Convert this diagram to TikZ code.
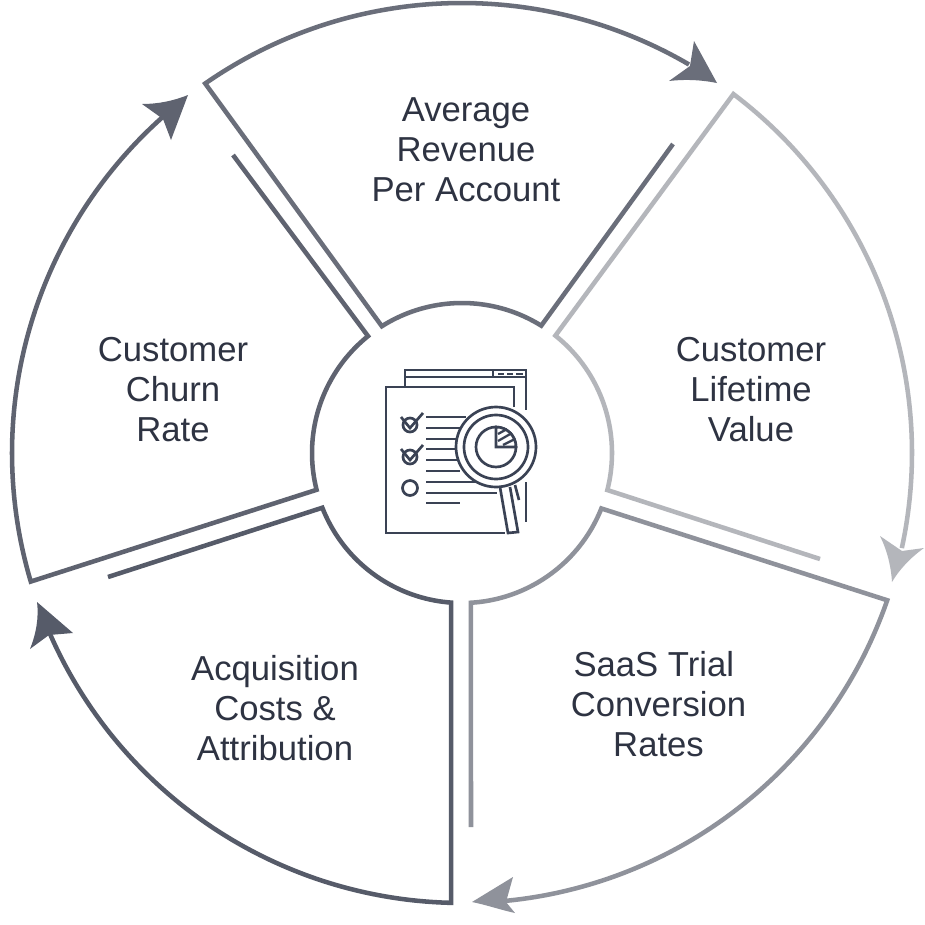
\documentclass[tikz,border=0pt]{standalone}
\usepackage{fontspec}
\setmainfont{Liberation Sans}
\definecolor{cTop}{HTML}{6A6E7A}
\definecolor{cRight}{HTML}{B4B6BB}
\definecolor{cBR}{HTML}{8F929B}
\definecolor{cBL}{HTML}{565B69}
\definecolor{cLeft}{HTML}{5F6370}
\definecolor{cIcon}{HTML}{3A4254}
\definecolor{cText}{HTML}{2E3342}
\tikzset{
  ringline/.style={line width=3.4pt,line join=miter,miter limit=20},
  label/.style={font=\fontsize{26}{30}\selectfont,text=cText,align=center,inner sep=0pt},
  icon/.style={draw=cIcon,line width=2pt},
}
\newcommand{\ringpart}[6]{%
  \draw[ringline,draw=#1] #2
    -- plot[smooth,domain=#3:#4,samples=40] ({462+150*cos(\x)},{453+150*sin(\x)})
    -- plot[smooth,domain=#5:#6,samples=60] ({462+450*cos(\x)},{453+450*sin(\x)});}
\begin{document}
\begin{tikzpicture}[x=0.75pt,y=-0.75pt]
\useasboundingbox (0,0) rectangle (925,925);
\fill[white] (0,0) rectangle (925,925);
\coordinate (tTop) at (673,144);
\coordinate (tRight) at (820,559);
\coordinate (tBR) at (471,827);
\coordinate (tBL) at (108,577);
\coordinate (tLeft) at (233,155);
\ringpart{cTop}{(tTop)}{-58.1}{-122.3}{-124.8}{-59.7}
\ringpart{cRight}{(tRight)}{14.3}{-51.5}{-52.9}{12.2}
\ringpart{cBR}{(tBR)}{86.6}{21.7}{19.1}{84.5}
\ringpart{cBL}{(tBL)}{158.6}{94.2}{91.4}{156.5}
\ringpart{cLeft}{(tLeft)}{231.2}{165.8}{163.4}{228.5}
% arrowheads
\fill[cTop] (717,83) -- (694,41) -- (690,66) -- (669,81) .. controls (686,79) and (702,80) .. cycle;
\fill[cRight] (892,582) .. controls (899,570) and (910,558) .. (924,548) -- (902,551) -- (880,536) .. controls (887,550) and (891,566) .. cycle;
\fill[cBR] (472,902) -- (513,877) -- (506,902) -- (515,913) .. controls (501,910) and (487,905) .. cycle;
\fill[cBL] (37,602) .. controls (39,618) and (36,634) .. (30,649) -- (49,635) -- (73,633) -- cycle;
\fill[cLeft] (188,95) .. controls (173,101) and (158,104) .. (142,104) -- (163,119) -- (171,140) -- cycle;
% labels
\node[label] (avg) at (466,150) {Average\\Revenue\\Per Account};
\node[label] (clv) at (751,390) {Customer\\Lifetime\\Value};
\node[label] (saas) at (658.5,704) {SaaS Trial\hspace{7pt}\mbox{}\\Conversion\\Rates};
\node[label] (acq) at (275,708) {Acquisition\\Costs \&\\Attribution};
\node[label] (churn) at (173,390) {Customer\\Churn\\Rate};
% icon
\draw[icon] (405,387) -- (405,370) -- (526,370) -- (526,410);
\draw[icon] (526,482) -- (526,522);
\draw[icon] (405,377) -- (526,377);
\draw[icon] (493,370) -- (493,377);
\draw[icon] (498,374) -- (504,374) (507,374) -- (513,374) (516,374) -- (523,374);
\draw[icon] (514,407) -- (514,387) -- (386,387) -- (386,533) -- (505,533);
\draw[icon] (426,417) -- (466,417) (426,428) -- (460,428) (426,439) -- (458,439)
  (426,449) -- (458,449) (426,460) -- (458,460) (426,471) -- (460,471)
  (426,482) -- (477,482) (426,493) -- (497,493) (426,503) -- (460,503);
\draw[icon] (410,425) circle[radius=7];
\draw[icon] (410,457) circle[radius=7];
\draw[icon] (410,488) circle[radius=7.5];
\draw[icon] (401,417) -- (410,428) -- (423,413);
\draw[icon] (401,449) -- (410,460) -- (423,445);
\draw[icon,fill=white] (500,487) -- (508,533) -- (518,532) -- (510,487);
\draw[icon] (515,485) -- (519,500);
\draw[icon,fill=white] (496,447) circle[radius=40];
\draw[icon] (496,447) circle[radius=32];
\draw[icon] (496,447) circle[radius=20];
\draw[icon,fill=white] (496,447) -- (496,427) .. controls (507,427) and (516,436) .. (516,447) -- cycle;
\draw[icon,line width=1.7pt] (498,434) -- (507,429) (498,441) -- (512,433) (503,445) -- (515,439);
\end{tikzpicture}
\end{document}
